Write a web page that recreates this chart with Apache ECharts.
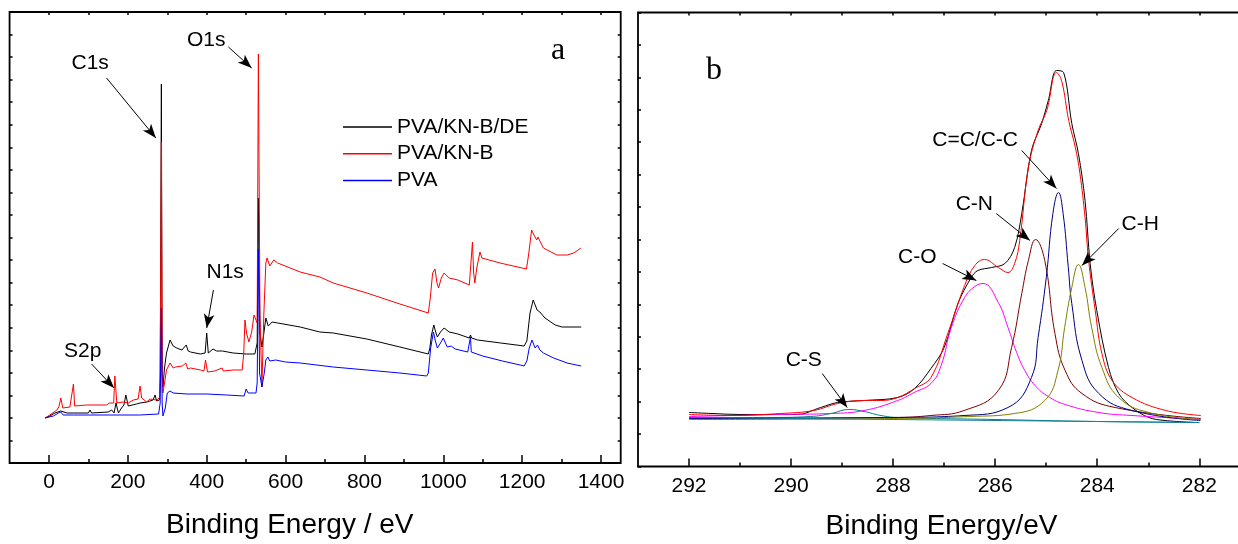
<!DOCTYPE html>
<html>
<head>
<meta charset="utf-8">
<title>XPS survey and C1s</title>
<script src="https://cdn.jsdelivr.net/npm/echarts@6/dist/echarts.min.js"></script>
<style>
  html, body { margin: 0; padding: 0; background: #fff; }
  #chart { width: 1238px; height: 544px; }
</style>
</head>
<body>
<div id="chart"></div>
<script>
// survey spectra (a): [binding energy eV, intensity a.u.]
const pvaDe = [
  [-10, 45], [2, 47], [15, 50], [30, 52], [45, 50], [100, 50], [104, 53], [108, 50],
  [150, 51], [159, 53], [165, 50], [170, 60], [176, 50], [184, 55], [190, 58], [195, 68],
  [201, 57], [222, 59], [231, 60], [248, 61], [264, 63], [269, 68], [273, 62], [280, 63],
  [282, 80], [285, 379], [287, 90], [289, 76], [293, 95], [298, 110], [307, 123], [315, 117],
  [324, 115], [337, 113], [348, 118], [353, 112], [359, 111], [384, 109], [396, 110],
  [400, 130], [404, 110], [408, 109], [416, 114], [425, 112], [440, 112], [467, 110],
  [500, 109], [522, 109], [528, 120], [531, 265], [535, 130], [540, 116], [545, 130],
  [550, 145], [556, 137], [566, 141], [580, 140], [637, 136], [687, 131], [721, 130],
  [806, 124], [890, 116], [962, 109], [966, 115], [970, 128], [976, 138], [980, 132],
  [985, 126], [993, 131], [1002, 135], [1015, 131], [1037, 129], [1066, 125], [1069, 128],
  [1072, 125], [1087, 123], [1146, 120], [1205, 117], [1212, 122], [1220, 150], [1228, 163],
  [1233, 158], [1238, 153], [1245, 151], [1258, 145], [1284, 138], [1301, 136], [1350, 136]
]
const pvaKnb = [
  [-10, 45], [2, 48], [20, 53], [25, 56], [30, 65], [35, 55], [53, 56], [58, 57], [62, 79],
  [65, 57], [95, 58], [100, 60], [104, 58], [146, 58], [153, 60], [158, 58], [164, 60],
  [167, 87], [172, 60], [188, 61], [201, 60], [214, 63], [226, 64], [231, 77], [235, 65],
  [248, 61], [256, 64], [273, 63], [280, 65], [282, 90], [285, 321], [287, 90], [289, 70],
  [293, 80], [298, 93], [307, 100], [315, 95], [321, 96], [338, 97], [347, 100], [352, 94],
  [359, 95], [384, 93], [393, 92], [397, 103], [402, 91], [420, 92], [439, 95], [442, 92],
  [467, 93], [490, 93], [494, 110], [497, 143], [501, 130], [507, 121], [514, 131], [520, 148],
  [524, 150], [528, 140], [531, 409], [535, 150], [540, 76], [545, 150], [550, 200], [553, 205],
  [560, 197], [570, 203], [580, 200], [637, 191], [687, 186], [721, 180], [806, 170], [890, 159],
  [962, 150], [967, 165], [973, 190], [979, 194], [984, 180], [988, 175], [995, 185], [1002, 190],
  [1015, 185], [1037, 183], [1066, 178], [1071, 178], [1074, 221], [1077, 190], [1080, 180],
  [1085, 195], [1093, 211], [1098, 205], [1144, 200], [1211, 194], [1217, 210], [1224, 233],
  [1230, 228], [1237, 223], [1240, 226], [1254, 215], [1288, 208], [1314, 208], [1331, 210],
  [1349, 215]
]
const pva = [
  [-10, 45], [11, 47], [24, 50], [30, 51], [36, 48], [62, 48], [150, 48], [230, 48], [278, 49],
  [282, 60], [285, 155], [287, 60], [289, 47], [295, 55], [300, 70], [307, 72], [315, 70],
  [350, 69], [400, 69], [450, 68], [495, 67], [500, 74], [505, 70], [510, 68], [525, 70],
  [528, 80], [531, 214], [534, 90], [540, 76], [546, 90], [550, 103], [555, 106], [560, 102],
  [565, 101], [575, 103], [600, 101], [637, 100], [721, 96], [806, 93], [890, 90], [958, 87],
  [962, 90], [968, 115], [975, 131], [980, 122], [985, 115], [993, 120], [1000, 125],
  [1010, 116], [1020, 117], [1030, 114], [1062, 111], [1067, 111], [1069, 126], [1071, 111],
  [1076, 110], [1100, 107], [1150, 102], [1195, 98], [1205, 97], [1212, 102], [1218, 115],
  [1225, 123], [1230, 118], [1233, 115], [1239, 118], [1245, 113], [1254, 110], [1280, 105],
  [1314, 100], [1350, 97]
]

// C1s high resolution (b)
const c1sExp = [
  [292.0, 54], [291.55, 53], [291.0, 52], [290.54, 52], [289.88, 52], [289.42, 59], [289.09, 64],
  [288.57, 66], [287.91, 69], [287.58, 78], [287.26, 98], [287.0, 119], [286.73, 163],
  [286.47, 189], [286.34, 196], [286.07, 199], [285.81, 203], [285.62, 219], [285.48, 253],
  [285.29, 316], [285.09, 343], [284.96, 366], [284.8, 396], [284.66, 394], [284.5, 343],
  [284.37, 313], [284.24, 266], [284.14, 203], [284.01, 156], [283.78, 99], [283.58, 73],
  [283.32, 59], [282.99, 49], [282.67, 46], [282.08, 44]
]
const c1sFit = [
  [292.0, 52], [291.19, 51], [290.21, 53], [289.55, 56], [289.09, 63], [288.57, 66], [288.24, 66],
  [287.91, 69], [287.58, 78], [287.26, 89], [286.93, 133], [286.6, 181], [286.4, 201],
  [286.21, 207], [285.94, 199], [285.75, 194], [285.62, 203], [285.52, 226], [285.35, 299],
  [285.16, 336], [284.99, 356], [284.8, 394], [284.7, 386], [284.56, 346], [284.43, 319],
  [284.34, 293], [284.24, 249], [284.17, 206], [284.04, 156], [283.91, 113], [283.71, 86],
  [283.32, 69], [282.66, 56], [281.97, 51]
]
const cS = [
  [292, 49], [290.5, 49], [289.62, 50], [289.22, 53], [288.86, 57], [288.57, 55], [288.24, 51],
  [287.91, 49], [286, 47], [284, 45], [282, 44]
]
const cO = [
  [292, 50], [290.21, 52], [289.22, 53], [288.57, 56], [287.91, 66], [287.59, 74], [287.26, 83],
  [287.06, 101], [286.86, 139], [286.6, 169], [286.4, 180], [286.24, 183], [285.94, 164],
  [285.75, 139], [285.58, 114], [285.42, 96], [285.22, 81], [284.96, 70], [284.63, 62],
  [283.97, 54], [283.32, 51], [281.97, 47]
]
const cN = [
  [292, 48], [288, 49], [287.26, 51], [286.61, 56], [285.94, 76], [285.68, 119], [285.48, 173],
  [285.35, 206], [285.21, 227], [285.03, 206], [284.83, 133], [284.63, 96], [284.3, 73],
  [283.65, 59], [281.97, 48]
]
const cC = [
  [292, 48], [288, 49], [286.61, 51], [285.75, 59], [285.29, 89], [285.16, 129], [285.0, 189],
  [284.87, 253], [284.76, 274], [284.67, 253], [284.57, 200], [284.5, 163], [284.3, 106],
  [283.97, 73], [283.32, 56], [281.98, 46]
]
const cH = [
  [292, 47], [288, 48], [286.5, 50], [285.62, 53], [285.03, 66], [284.77, 96], [284.64, 139],
  [284.5, 179], [284.37, 202], [284.24, 179], [284.11, 139], [283.91, 99], [283.58, 69],
  [282.99, 54], [281.98, 47]
]
const c1sBase = [[292, 49], [282, 44]]

// axis ranges and tick steps
const surveyRange = [-100, 1450]
const surveyTicks = [0, 1400, 200]
const c1sRange = [281, 293]
const c1sTicks = [282, 292, 2]

// arrows, in data coordinates: [from, to]
const surveyArrows = [
  [[146, 385], [271, 325]],
  [[455, 416], [514, 395]],
  [[417, 173], [400, 135]],
  [[108, 99], [165, 75]]
]
const c1sArrows = [
  [[285.48, 316], [284.8, 278]],
  [[285.98, 253], [285.32, 226]],
  [[283.58, 238], [284.3, 201]],
  [[287.03, 203], [286.37, 186]],
  [[289.39, 93], [288.9, 59]]
]

const font = '"Liberation Sans", Arial, sans-serif'
const serif = '"Liberation Serif", "Times New Roman", serif'
const black = '#000'

const chart = echarts.init(document.getElementById('chart'))

function tickAxis(grid, pos, range, step, big, inverse) {
  return {
    type: 'value',
    gridIndex: grid,
    position: pos,
    min: range[0],
    max: range[1],
    interval: step,
    inverse: !!inverse,
    axisLine: { show: false, onZero: false },
    axisTick: { inside: true, length: big ? 8 : 3, lineStyle: { color: black, width: 1.5 } },
    minorTick: { show: true, splitNumber: 2, length: big ? 4 : 3, lineStyle: { color: black, width: 1.5 } },
    axisLabel: { show: big, fontSize: 21, color: black, fontFamily: font, margin: 9, formatter: v => String(v) },
    splitLine: { show: false },
    minorSplitLine: { show: false }
  }
}

function sideAxis(grid, pos, max, step) {
  return {
    type: 'value',
    gridIndex: grid,
    position: pos,
    min: 0,
    max: max,
    interval: step,
    axisLine: { show: false, onZero: false },
    axisTick: { inside: true, length: 3, lineStyle: { color: black, width: 1.5 } },
    axisLabel: { show: false },
    splitLine: { show: false }
  }
}

function arrows(list) {
  return {
    silent: true,
    symbol: ['none', 'arrow'],
    symbolSize: [8, 14],
    animation: false,
    label: { show: false },
    emphasis: { disabled: true },
    lineStyle: { color: black, width: 1, type: 'solid' },
    data: list.map(a => [{ coord: a[0] }, { coord: a[1] }])
  }
}

function line(name, data, color, xi, yi, smooth) {
  return {
    type: 'line',
    name: name,
    data: data,
    xAxisIndex: xi,
    yAxisIndex: yi,
    symbol: 'none',
    smooth: smooth || false,
    lineStyle: { color: color, width: 1 },
    itemStyle: { color: color },
    emphasis: { disabled: true }
  }
}

function label(x, y, text, opts) {
  return {
    type: 'text',
    x: x,
    y: y,
    silent: true,
    style: Object.assign({
      text: text,
      fill: black,
      fontSize: 21,
      fontFamily: font,
      align: 'left',
      verticalAlign: 'middle'
    }, opts || {})
  }
}

const survey = [
  line('PVA/KN-B/DE', pvaDe, '#000000', 0, 0),
  line('PVA/KN-B', pvaKnb, '#ff0000', 0, 0),
  line('PVA', pva, '#0000ff', 0, 0)
]
survey[0].markLine = arrows(surveyArrows)

const c1s = [
  line('exp', c1sExp, '#000000', 3, 3, 0.35),
  line('C-S', cS, '#008080', 3, 3, 0.45),
  line('C-O', cO, '#ff00ff', 3, 3, 0.45),
  line('C-N', cN, '#800000', 3, 3, 0.45),
  line('C=C/C-C', cC, '#000080', 3, 3, 0.45),
  line('C-H', cH, '#808000', 3, 3, 0.45),
  line('base', c1sBase, '#1a7fa0', 3, 3),
  line('fit', c1sFit, '#ff0000', 3, 3, 0.4)
]
c1s[0].markLine = arrows(c1sArrows)

const frame = { show: true, borderColor: black, borderWidth: 1.8, backgroundColor: 'transparent', outerBoundsMode: 'none', containLabel: false }
const bare = { outerBoundsMode: 'none', containLabel: false }

chart.setOption({
  animation: false,
  backgroundColor: '#fff',
  grid: [
    Object.assign({ left: 9.57, top: 12, width: 611.14, height: 451 }, frame),
    Object.assign({ left: 49, top: 12, width: 552, height: 451 }, bare),
    Object.assign({ left: 638, top: 12.5, width: 612.4, height: 454 }, frame),
    Object.assign({ left: 689, top: 12.5, width: 510.3, height: 454 }, bare)
  ],
  xAxis: [
    { type: 'value', gridIndex: 0, min: surveyRange[0], max: surveyRange[1], show: false },
    tickAxis(1, 'bottom', surveyTicks, surveyTicks[2], true),
    tickAxis(1, 'top', surveyTicks, surveyTicks[2], false),
    { type: 'value', gridIndex: 2, min: c1sRange[0], max: c1sRange[1], inverse: true, show: false },
    tickAxis(3, 'bottom', c1sTicks, c1sTicks[2], true, true),
    tickAxis(3, 'top', c1sTicks, c1sTicks[2], false, true)
  ],
  yAxis: [
    sideAxis(0, 'left', 451, 22.55),
    sideAxis(0, 'right', 451, 22.55),
    { type: 'value', gridIndex: 1, min: 0, max: 451, show: false },
    sideAxis(2, 'left', 454, 32.43),
    sideAxis(2, 'right', 454, 32.43),
    { type: 'value', gridIndex: 3, min: 0, max: 454, show: false }
  ],
  legend: {
    data: ['PVA/KN-B/DE', 'PVA/KN-B', 'PVA'],
    orient: 'vertical',
    left: 343,
    top: 116.5,
    padding: 0,
    icon: 'rect',
    itemWidth: 49,
    itemHeight: 1.5,
    itemGap: 5.7,
    selectedMode: false,
    textStyle: { fontSize: 21, color: black, fontFamily: font }
  },
  graphic: [
    label(71.5, 63.5, 'C1s'),
    label(187, 40, 'O1s'),
    label(206.5, 272.5, 'N1s'),
    label(64, 351, 'S2p'),
    label(551, 51, 'a', { fontFamily: serif, fontSize: 32 }),
    label(166, 525, 'Binding Energy / eV', { fontSize: 28 }),
    label(1018, 140.5, 'C=C/C-C', { align: 'right' }),
    label(955.7, 204, 'C-N'),
    label(1121.5, 224, 'C-H'),
    label(898, 257.5, 'C-O'),
    label(785.7, 360.5, 'C-S'),
    label(706, 71, 'b', { fontFamily: serif, fontSize: 32 }),
    label(825.5, 526.7, 'Binding Energy/eV', { fontSize: 28 })
  ],
  series: survey.concat(c1s)
})
</script>
</body>
</html>
